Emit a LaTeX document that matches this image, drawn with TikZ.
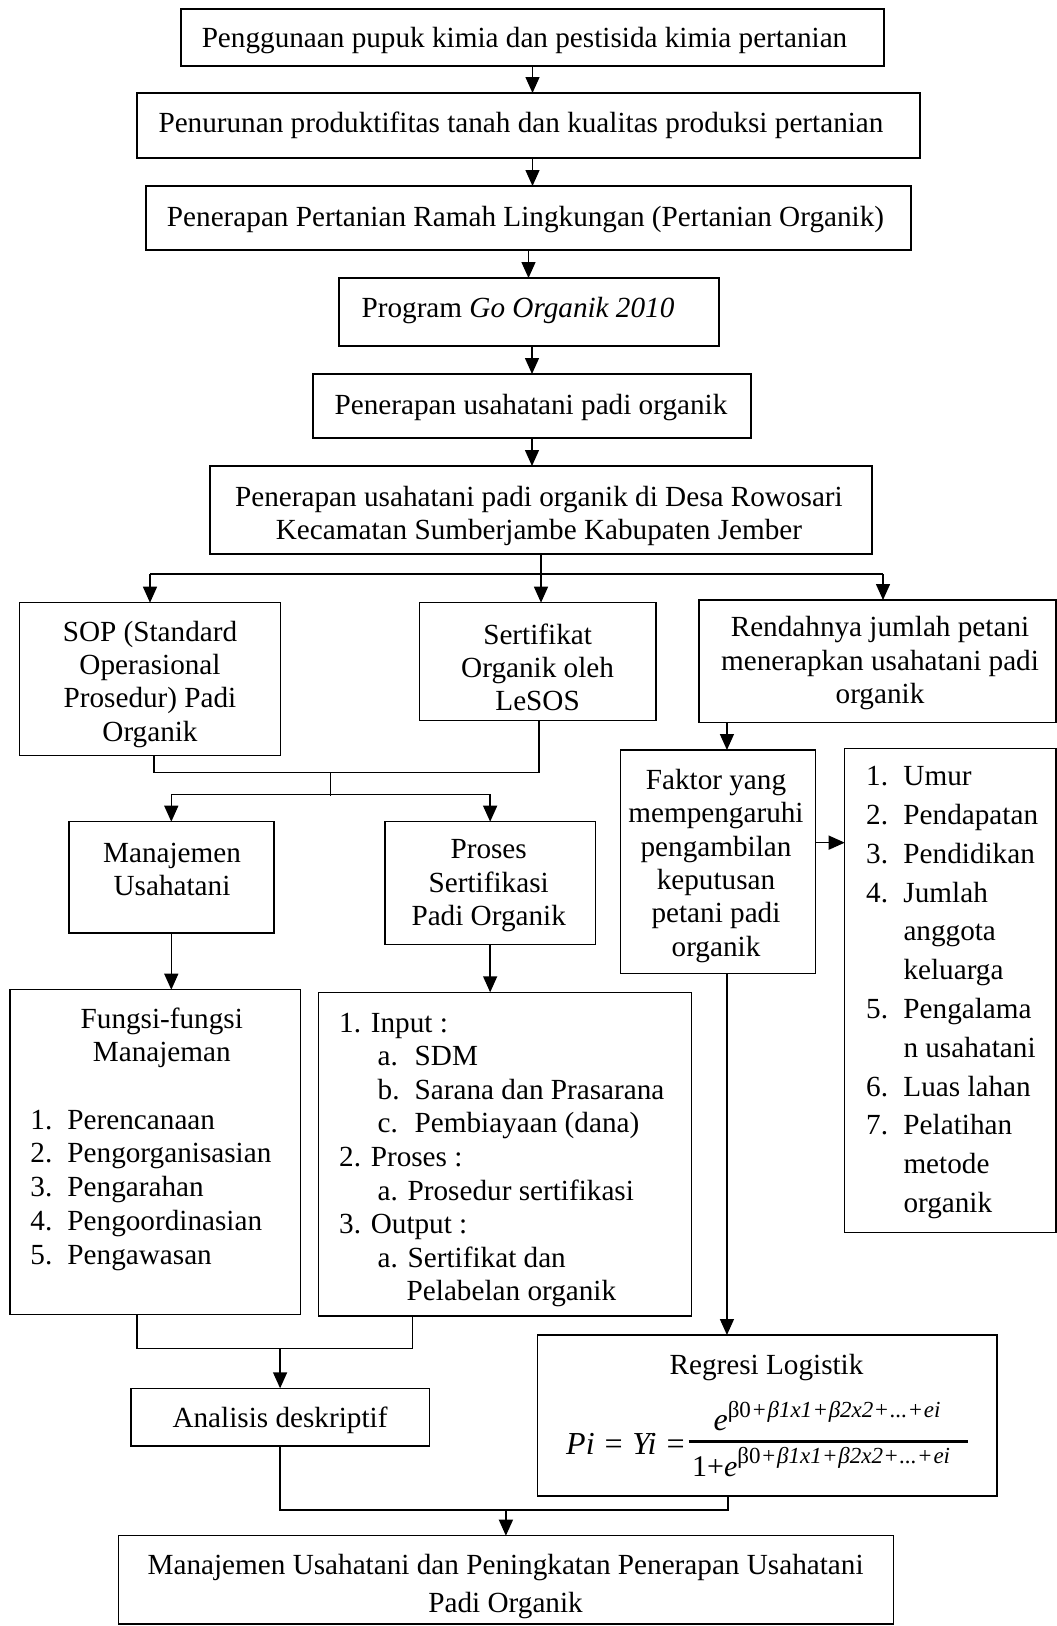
\documentclass[tikz,border=0pt]{standalone}
\usepackage{fontspec}
\setmainfont{Liberation Serif}
\usetikzlibrary{arrows.meta,calc}
\tikzset{
  boxst/.style={draw, line width=1.4pt, inner sep=0pt, outer sep=0pt},
  txt/.style={inner sep=0pt, align=center, yshift=-2.5pt, font=\fontsize{29.2}{33.3}\selectfont},
  ltxt/.style={inner sep=0pt, align=left, anchor=west, yshift=-2.5pt, font=\fontsize{29.2}{33.5}\selectfont},
  conn/.style={line width=1.4pt},
  arr/.style={line width=1.4pt, -{Triangle[length=16pt,width=14pt]}},
}
\newcommand\mybox[5]{\node[boxst, anchor=north west, minimum width=#4pt, minimum height=#5pt] (#1) at (#2,#3) {};}
\newcommand\pl{\hspace{1.8pt}+\hspace{1.8pt}}
\newcommand\supexp{\fontsize{23}{23}\selectfont β0\pl\textit{β1x1}\pl\textit{β2x2}\pl\textit{...}\pl\textit{ei}}
\begin{document}
\begin{tikzpicture}[x=1pt,y=-1pt]
\useasboundingbox[fill=white] (0,0) rectangle (1057,1626);
% boxes
\mybox{b1}{181}{9}{703}{57}
\mybox{b2}{137}{93}{783}{65}
\mybox{b3}{146}{186}{765}{64}
\mybox{b4}{339}{278}{380}{68}
\mybox{b5}{313}{374}{438}{64}
\mybox{b6}{210}{466}{662}{88}
\mybox{sop}{19.5}{602.7}{261}{152.6}
\mybox{sert}{419.3}{602.7}{236.7}{118}
\mybox{ren}{699}{600}{357}{122.3}
\mybox{man}{68.8}{821.7}{205}{111.3}
\mybox{pro}{385}{821.7}{210.3}{123}
\mybox{fak}{620.2}{750}{195.5}{223.3}
\mybox{lst}{844.7}{748.3}{211.3}{484}
\mybox{fun}{10}{989.7}{290.7}{324.6}
\mybox{inp}{318.2}{992.3}{373.5}{323.7}
\mybox{reg}{537.3}{1335}{459.7}{161}
\mybox{ana}{130.8}{1388.3}{298.6}{57.7}
\mybox{fin}{118.6}{1535.7}{774.6}{88.3}
% texts
\node[txt] (t1) at (524.5,38) {Penggunaan pupuk kimia dan pestisida kimia pertanian};
\node[txt] (t2) at (521,123.3) {Penurunan produktifitas tanah dan kualitas produksi pertanian};
\node[txt] (t3) at (525.5,216.7) {Penerapan Pertanian Ramah Lingkungan (Pertanian Organik)};
\node[txt] (t4) at (518,308.3) {Program \textit{Go Organik 2010}};
\node[txt] (t5) at (531,405) {Penerapan usahatani padi organik};
\node[txt] (t6) at (539,513.3) {Penerapan usahatani padi organik di Desa Rowosari\\Kecamatan Sumberjambe Kabupaten Jember};
\node[txt] (tsop) at (150,681.7) {SOP (Standard\\Operasional\\Prosedur) Padi\\Organik};
\node[txt] (tsert) at (537.6,665) {Sertifikat\\Organik oleh\\LeSOS};
\node[txt] (tren) at (880,660.7) {Rendahnya jumlah petani\\menerapkan usahatani padi\\organik};
\node[txt] (tfak) at (716,863.3) {Faktor yang\\mempengaruhi\\pengambilan\\keputusan\\petani padi\\organik};
\node[txt] (tman) at (172,866.7) {Manajemen\\Usahatani};
\node[txt] (tpro) at (488.7,883.3) {Proses\\Sertifikasi\\Padi Organik};
\node[txt] (tfunh) at (161.8,1035) {Fungsi-fungsi\\Manajeman};
\node[ltxt, font=\fontsize{29.2}{33.75}\selectfont] (tfunl) at (30.3,1187.5) {\makebox[37pt][l]{1.}Perencanaan\\\makebox[37pt][l]{2.}Pengorganisasian\\\makebox[37pt][l]{3.}Pengarahan\\\makebox[37pt][l]{4.}Pengoordinasian\\\makebox[37pt][l]{5.}Pengawasan};
\node[ltxt, font=\fontsize{29.2}{33.55}\selectfont] (tinp) at (339,1157.5) {1. Input :\\\hspace*{38.5pt}\makebox[37pt][l]{a.}SDM\\\hspace*{38.5pt}\makebox[37pt][l]{b.}Sarana dan Prasarana\\\hspace*{38.5pt}\makebox[37pt][l]{c.}Pembiayaan (dana)\\2. Proses :\\\hspace*{38.5pt}a. Prosedur sertifikasi\\3. Output :\\\hspace*{38.5pt}a. Sertifikat dan\\\hspace*{67.5pt}Pelabelan organik};
\node[ltxt, font=\fontsize{29.2}{38.8}\selectfont] (tlst) at (866,990) {\makebox[37.3pt][l]{1.}Umur\\\makebox[37.3pt][l]{2.}Pendapatan\\\makebox[37.3pt][l]{3.}Pendidikan\\\makebox[37.3pt][l]{4.}Jumlah\\\hspace*{37.3pt}anggota\\\hspace*{37.3pt}keluarga\\\makebox[37.3pt][l]{5.}Pengalama\\\hspace*{37.3pt}n usahatani\\\makebox[37.3pt][l]{6.}Luas lahan\\\makebox[37.3pt][l]{7.}Pelatihan\\\hspace*{37.3pt}metode\\\hspace*{37.3pt}organik};
\node[txt] (treg) at (766.5,1365) {Regresi Logistik};
\node[txt] (tana) at (280,1418.3) {Analisis deskriptif};
\node[txt, font=\fontsize{29.2}{38.3}\selectfont] (tfin) at (505.6,1584.2) {Manajemen Usahatani dan Peningkatan Penerapan Usahatani\\Padi Organik};
% formula
\node[inner sep=0pt, anchor=base west, font=\fontsize{32}{32}\selectfont\itshape] (pyi) at (566,1454.3) {Pi = Yi =};
\node[inner sep=0pt, anchor=base, font=\fontsize{32}{32}\selectfont] (num) at (827,1430) {\textit{e}\raisebox{12.3pt}{\supexp}};
\node[inner sep=0pt, anchor=base west, font=\fontsize{30}{30}\selectfont] (den) at (692,1476.7) {1+\textit{e}\raisebox{13.4pt}{\supexp}};
\draw[line width=3.2pt] (688.7,1441.7) -- (968,1441.7);
% connectors
\draw[arr] (b1.south) -- (b1.south |- b2.north);
\draw[arr] (b1.south |- b2.south) -- (b1.south |- b3.north);
\draw[arr] (b3.south) -- (b3.south |- b4.north);
\draw[arr] (b5.north |- b4.south) -- (b5.north);
\draw[arr] (b5.south) -- (b5.south |- b6.north);
\coordinate (br1) at ($(b6.south)+(0,20)$);
\coordinate (rx) at ($(ren.north)+(5.5,0)$);
\draw[arr] (b6.south) -- (b6.south |- sert.north);
\draw[conn] (sop.north |- br1) -- (rx |- br1);
\draw[arr] (sop.north |- br1) -- (sop.north);
\draw[arr] (rx |- br1) -- (rx);
\coordinate (sa) at ($(sop.south)+(4,0)$);
\coordinate (sb) at ($(sert.south)+(1.5,0)$);
\coordinate (mbar) at ($(sop.south)+(0,17)$);
\draw[conn] (sa) -- (sa |- mbar) -- (sb |- mbar) -- (sb);
\coordinate (mid) at ($(man.north)!0.5!(pro.north)$);
\coordinate (mbar2) at ($(man.north)+(0,-27.5)$);
\draw[conn] (mid |- mbar) -- ($(mid |- mbar2)+(0,2)$);
\draw[conn] (man.north |- mbar2) -- (pro.north |- mbar2);
\draw[arr] (man.north |- mbar2) -- (man.north);
\draw[arr] (pro.north |- mbar2) -- (pro.north);
\draw[arr] (man.south) -- (man.south |- fun.north);
\draw[arr] (pro.south) -- (pro.south |- inp.north);
\coordinate (fx) at ($(fak.north)+(9,0)$);
\draw[arr] (fx |- ren.south) -- (fx);
\coordinate (fy) at ($(fak.east)+(0,-19)$);
\draw[arr] (fy) -- (fy -| lst.west);
\coordinate (fz) at ($(fak.south)+(9,0)$);
\draw[arr] (fz) -- (fz |- reg.north);
\coordinate (fa) at ($(fun.south)+(-18.5,0)$);
\coordinate (ia) at ($(inp.south)+(-92.4,0)$);
\coordinate (ybar) at ($(fun.south)+(0,34)$);
\draw[conn] (fa) -- (fa |- ybar) -- (ia |- ybar) -- (ia);
\draw[arr] (ana.north |- ybar) -- (ana.north);
\coordinate (ra) at ($(reg.south)+(-39,0)$);
\coordinate (ybar2) at ($(ana.south)+(0,64)$);
\draw[conn] (ana.south) -- (ana.south |- ybar2) -- (ra |- ybar2) -- (ra);
\draw[arr] (fin.north |- ybar2) -- (fin.north);
\end{tikzpicture}
\end{document}
